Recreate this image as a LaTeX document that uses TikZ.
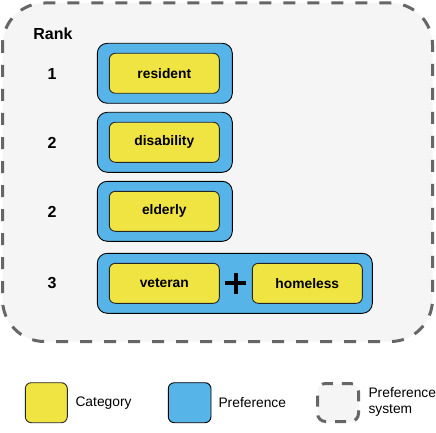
\documentclass[tikz,border=0pt]{standalone}
\usepackage{fontspec}
\setmainfont{Liberation Sans}
\begin{document}
\begin{tikzpicture}[x=1pt,y=-1pt,
  catbox/.style={draw=black!85,line width=0.9pt,fill=catyellow,rounded corners=6pt},
  prefbox/.style={draw=black,line width=0.9pt,fill=prefblue,rounded corners=10pt},
  sysbox/.style={draw=sysgray,line width=3pt,fill=sysfill,dash pattern=on 12pt off 12pt},
  lbl/.style={font=\fontsize{13.8}{16}\selectfont\bfseries,text=black},
  rank/.style={font=\fontsize{16}{19}\selectfont\bfseries,text=black},
  legtxt/.style={font=\fontsize{13.8}{16}\selectfont,text=black,anchor=west,align=left}]
\definecolor{catyellow}{HTML}{F0E442}
\definecolor{prefblue}{HTML}{56B4E9}
\definecolor{sysgray}{HTML}{666666}
\definecolor{sysfill}{HTML}{F5F5F5}
\useasboundingbox (0,0) rectangle (436,433);
\fill[white] (0,0) rectangle (436,433);
% preference system
\draw[sysbox,rounded corners=42pt,dash phase=4pt] (2.5,3) rectangle (432.5,341.5);
% rank labels
\node[rank] (rk) at (53,34) {Rank};
\node[rank] (r1) at (52,74) {1};
\node[rank] (r2) at (52,143) {2};
\node[rank] (r3) at (52,212) {2};
\node[rank] (r4) at (52,283) {3};
% preferences
\draw[prefbox] (97.3,43.3) rectangle (232.3,103.3);
\draw[prefbox] (97.3,112.3) rectangle (232.3,172.3);
\draw[prefbox] (97.3,181.3) rectangle (232.3,241.3);
\draw[prefbox] (97.3,253.3) rectangle (372.3,313.3);
% categories
\draw[catbox] (109.3,53.3) rectangle (219.3,93.3);
\node[lbl] (c1) at (164.3,73.3) {resident};
\draw[catbox] (109.3,122.3) rectangle (219.3,162.3);
\node[lbl] (c2) at (164.3,142.3) {disability};
\draw[catbox] (109.3,191.3) rectangle (219.3,231.3);
\node[lbl] (c3) at (164.3,211.3) {elderly};
\draw[catbox] (109.3,263.3) rectangle (219.3,303.3);
\node[lbl] (c4) at (164.3,283.3) {veteran};
\draw[catbox] (252.3,263.3) rectangle (362.3,303.3);
\node[lbl] (c5) at (307.3,283.3) {homeless};
% plus
\coordinate (pc) at (235.8,283);
\draw[line width=3.6pt,black] ([xshift=-10.5pt]pc) -- ([xshift=10.5pt]pc);
\draw[line width=3.6pt,black] ([yshift=-10.5pt]pc) -- ([yshift=10.5pt]pc);
% legend
\draw[catbox] (25.3,382.7) rectangle (67.3,422.7);
\node[legtxt] (lc) at (72,403) {Category};
\draw[prefbox,rounded corners=6pt] (168.3,382.7) rectangle (211,422.7);
\node[legtxt] (lp) at (215,403) {Preference};
\draw[sysbox,rounded corners=8pt,dash pattern=on 11pt off 9pt,dash phase=-4pt] (317.5,383.5) rectangle (358.5,421.5);
\node[legtxt,font=\fontsize{13.8}{16}\selectfont] (ls) at (365,402) {Preference\\system};
\end{tikzpicture}
\end{document}
